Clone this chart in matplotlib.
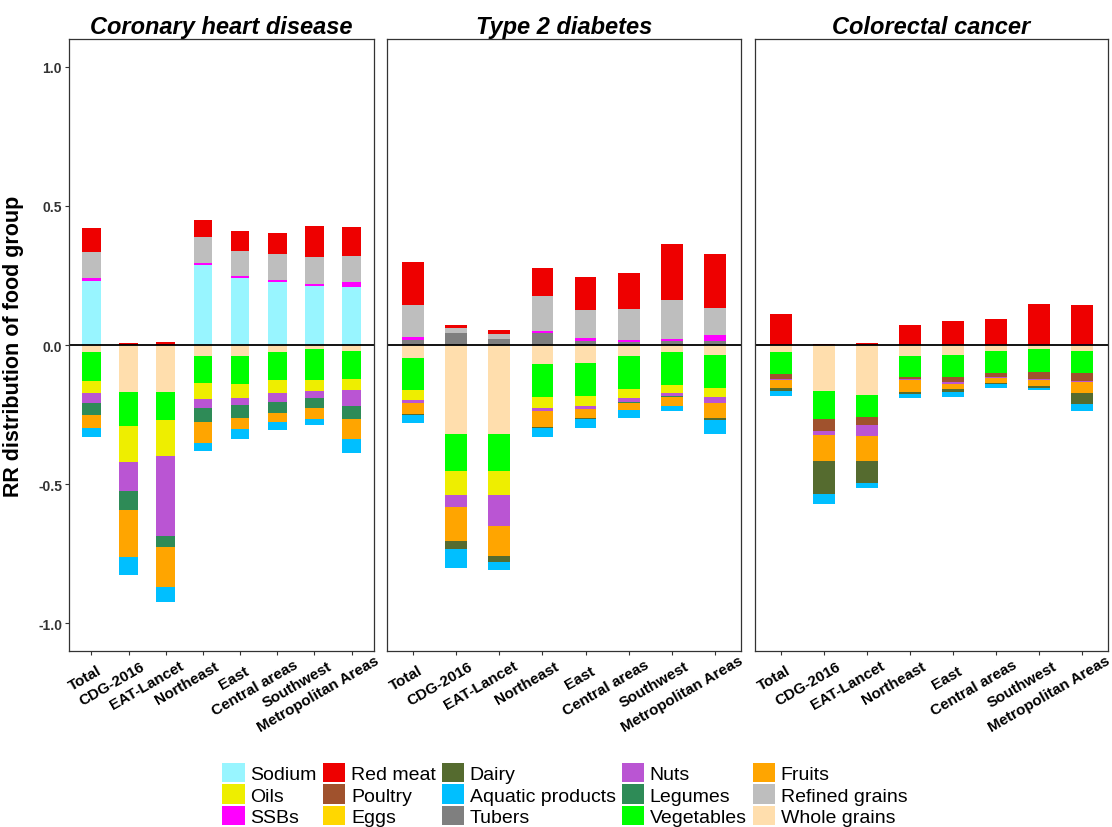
import numpy as np
import matplotlib.pyplot as plt
from matplotlib.patches import Patch
from matplotlib.transforms import ScaledTranslation
from matplotlib.textpath import TextPath
from matplotlib.font_manager import FontProperties

plt.rcParams['font.family'] = ['Liberation Sans', 'DejaVu Sans']

regiones = ['Total', 'CDG-2016', 'EAT-Lancet', 'Northeast', 'East',
            'Central areas', 'Southwest', 'Metropolitan Areas']
titulos = ['Coronary heart disease', 'Type 2 diabetes', 'Colorectal cancer']

# RR por grupo de alimento, una lista por grupo (8 regiones)
chd = {
    'Sodium':           [0.231, 0, 0, 0.288, 0.240, 0.228, 0.213, 0.207],
    'SSBs':             [0.009, 0, 0, 0.006, 0.007, 0.005, 0.008, 0.020],
    'Refined grains':   [0.096, 0, 0, 0.094, 0.092, 0.094, 0.097, 0.092],
    'Red meat':         [0.084, 0.008, 0.011, 0.063, 0.071, 0.075, 0.109, 0.104],
    'Whole grains':     [-0.026, -0.170, -0.170, -0.041, -0.040, -0.024, -0.016, -0.020],
    'Vegetables':       [-0.102, -0.121, -0.099, -0.097, -0.100, -0.102, -0.109, -0.104],
    'Oils':             [-0.046, -0.131, -0.129, -0.055, -0.050, -0.048, -0.039, -0.039],
    'Nuts':             [-0.035, -0.103, -0.290, -0.032, -0.027, -0.032, -0.028, -0.058],
    'Legumes':          [-0.043, -0.067, -0.038, -0.052, -0.046, -0.038, -0.036, -0.046],
    'Fruits':           [-0.048, -0.169, -0.143, -0.076, -0.038, -0.034, -0.038, -0.072],
    'Aquatic products': [-0.032, -0.066, -0.054, -0.029, -0.036, -0.029, -0.022, -0.051],
}

t2d = {
    'Tubers':           [0.018, 0.043, 0.022, 0.044, 0.016, 0.012, 0.016, 0.016],
    'SSBs':             [0.010, 0, 0, 0.005, 0.009, 0.006, 0.007, 0.020],
    'Refined grains':   [0.116, 0.019, 0.018, 0.126, 0.102, 0.113, 0.139, 0.097],
    'Red meat':         [0.154, 0.009, 0.015, 0.101, 0.119, 0.127, 0.202, 0.193],
    'Whole grains':     [-0.046, -0.321, -0.321, -0.068, -0.066, -0.040, -0.025, -0.036],
    'Vegetables':       [-0.117, -0.131, -0.131, -0.118, -0.119, -0.118, -0.119, -0.119],
    'Oils':             [-0.034, -0.089, -0.089, -0.041, -0.036, -0.034, -0.030, -0.031],
    'Nuts':             [-0.012, -0.040, -0.111, -0.009, -0.010, -0.013, -0.009, -0.022],
    'Legumes':          [0, 0, 0, 0, 0, -0.003, -0.003, 0],
    'Fruits':           [-0.038, -0.124, -0.108, -0.059, -0.032, -0.025, -0.032, -0.055],
    'Dairy':            [-0.004, -0.030, -0.019, -0.003, -0.003, 0, 0, -0.008],
    'Aquatic products': [-0.031, -0.065, -0.031, -0.031, -0.033, -0.031, -0.020, -0.050],
}

crc = {
    'SSBs':             [0, 0, 0, 0, 0, 0, 0, 0.004],
    'Red meat':         [0.113, 0.004, 0.007, 0.071, 0.086, 0.092, 0.147, 0.140],
    'Whole grains':     [-0.024, -0.167, -0.179, -0.038, -0.036, -0.022, -0.014, -0.020],
    'Vegetables':       [-0.080, -0.099, -0.081, -0.078, -0.080, -0.080, -0.084, -0.081],
    'Poultry':          [-0.018, -0.043, -0.028, -0.006, -0.018, -0.012, -0.024, -0.027],
    'Nuts':             [-0.004, -0.015, -0.038, -0.005, -0.005, -0.005, -0.005, -0.006],
    'Fruits':           [-0.027, -0.092, -0.091, -0.041, -0.019, -0.018, -0.019, -0.039],
    'Dairy':            [-0.012, -0.121, -0.079, -0.008, -0.010, -0.003, -0.009, -0.038],
    'Aquatic products': [-0.017, -0.035, -0.017, -0.016, -0.018, -0.015, -0.008, -0.026],
}

colores = {
    'Sodium': '#98F5FF', 'Oils': '#EEEE00', 'SSBs': '#FF00FF',
    'Red meat': '#EE0000', 'Poultry': '#A0522D', 'Eggs': '#FFD700',
    'Dairy': '#556B2F', 'Aquatic products': '#00BFFF', 'Tubers': '#7F7F7F',
    'Nuts': '#BA55D3', 'Legumes': '#2E8B57', 'Vegetables': '#00FF00',
    'Fruits': '#FFA500', 'Refined grains': '#BEBEBE', 'Whole grains': '#FFDEAD',
}

# orden de apilado desde el cero hacia afuera
orden = ['Tubers', 'Sodium', 'SSBs', 'Refined grains', 'Red meat',
         'Whole grains', 'Vegetables', 'Oils', 'Poultry', 'Nuts', 'Legumes',
         'Fruits', 'Dairy', 'Eggs', 'Aquatic products']

fig = plt.figure(figsize=(11.12, 8.28), dpi=100)
posiciones = [[69, 374], [387, 741], [755, 1108]]
W, H = 1112, 828
top, bottom = 40, 652

# etiquetas giradas 30 grados, ancladas cerca del 80% de su largo
tam_x = 11
fp = FontProperties(family='Liberation Sans', weight='bold', size=tam_x)
ang = np.radians(30)

x = np.arange(1, 9)
for i, datos in enumerate([chd, t2d, crc]):
    x0, x1 = posiciones[i]
    ax = fig.add_axes([x0 / W, 1 - bottom / H, (x1 - x0) / W, (bottom - top) / H])
    base_pos = np.zeros(8)
    base_neg = np.zeros(8)
    for grupo in orden:
        if grupo not in datos:
            continue
        v = np.array(datos[grupo])
        base = np.where(v >= 0, base_pos, base_neg)
        ax.bar(x, v, width=0.5, bottom=base, color=colores[grupo], linewidth=0)
        base_pos = base_pos + np.where(v > 0, v, 0)
        base_neg = base_neg + np.where(v < 0, v, 0)
    ax.axhline(0, color='black', lw=1.3)
    ax.set_xlim(0.4, 8.6)
    ax.set_ylim(-1.1, 1.1)
    ax.set_xticks(x)
    ax.set_xticklabels([])
    for xi, nombre in zip(x, regiones):
        largo = TextPath((0, 0), nombre, prop=fp).get_extents().width
        d = 0.2 * largo
        desplaza = ScaledTranslation((d * np.cos(ang) - 0.5) / 72,
                                     (d * np.sin(ang) - 11) / 72,
                                     fig.dpi_scale_trans)
        ax.text(xi, 0, nombre, transform=ax.get_xaxis_transform() + desplaza,
                rotation=30, ha='right', va='top', rotation_mode='anchor',
                fontsize=tam_x, fontweight='bold', color='black')
    for s in ax.spines.values():
        s.set_color('#333333')
        s.set_linewidth(0.9)
    ax.tick_params(axis='x', length=3, color='#333333', pad=2)
    if i == 0:
        ax.set_yticks([-1, -0.5, 0, 0.5, 1])
        ax.set_yticklabels(['-1.0', '-0.5', '0.0', '0.5', '1.0'],
                           fontsize=10, fontweight='bold', color='#333333')
        ax.tick_params(axis='y', length=3, color='#333333', pad=2)
        ax.set_ylabel('RR distribution of food group', fontsize=15.5,
                      fontweight='bold', labelpad=10)
    else:
        ax.set_yticks([])
    ax.set_title(titulos[i], fontsize=17, fontweight='bold', style='italic', pad=4)

leyenda = ['Sodium', 'Oils', 'SSBs', 'Red meat', 'Poultry', 'Eggs',
           'Dairy', 'Aquatic products', 'Tubers', 'Nuts', 'Legumes', 'Vegetables',
           'Fruits', 'Refined grains', 'Whole grains']
manejadores = [Patch(facecolor=colores[g], edgecolor='none') for g in leyenda]
fig.legend(manejadores, leyenda, ncol=5, loc='lower center',
           bbox_to_anchor=(0.508, -0.008), frameon=False, fontsize=14,
           handlelength=1.15, handleheight=1.15, labelspacing=0.05,
           columnspacing=0.3, handletextpad=0.3, borderaxespad=0)

plt.savefig('out.png', dpi=100)
